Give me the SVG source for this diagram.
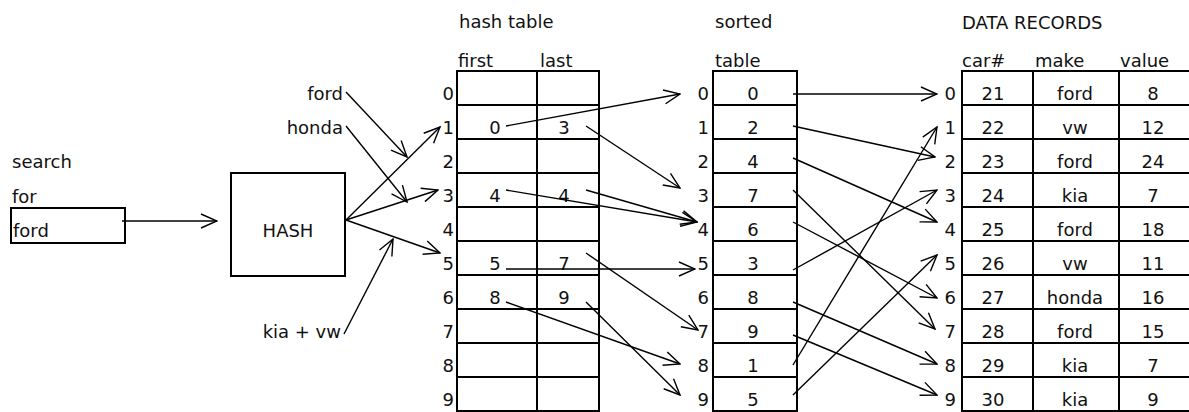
<svg xmlns="http://www.w3.org/2000/svg" width="1189" height="412" viewBox="0 0 1189 412">
<style>
text{font-family:"DejaVu Sans","Liberation Sans",sans-serif;font-size:18px;fill:#111}
.e{text-anchor:end}
.m{text-anchor:middle}
.box{fill:none;stroke:#000;stroke-width:2}
.grid{stroke:#000;stroke-width:2}
.c line{stroke:#000;stroke-width:1.4;marker-end:url(#ah)}
</style>
<defs>
<marker id="ah" markerUnits="userSpaceOnUse" viewBox="0 0 18 16" refX="17" refY="8" markerWidth="18" markerHeight="16" orient="auto">
<path d="M1,1 L17,8 L1,15" fill="none" stroke="#000" stroke-width="1.4"/>
</marker>
</defs>

<g id="search">
<text x="12" y="168">search</text>
<text x="12" y="203">for</text>
<rect class="box" x="11" y="208" width="114" height="35"/>
<text x="13" y="237">ford</text>
</g>

<g id="hash">
<rect class="box" x="231" y="173" width="114" height="103"/>
<text class="m" x="288" y="237">HASH</text>
</g>

<g id="keys">
<text class="e" x="343" y="100">ford</text>
<text class="e" x="343" y="134">honda</text>
<text class="e" x="341" y="338">kia + vw</text>
</g>

<g id="hashtable">
<text x="459" y="28">hash table</text>
<text x="458" y="67">first</text>
<text x="540" y="67">last</text>
<rect class="box" x="457" y="71" width="142" height="340"/>
<line class="grid" x1="537" y1="71" x2="537" y2="411"/>
<path class="grid" d="M457,105H599M457,139H599M457,173H599M457,207H599M457,241H599M457,275H599M457,309H599M457,343H599M457,377H599"/>
<text class="e" x="454" y="100">0</text><text class="e" x="454" y="134">1</text><text class="e" x="454" y="168">2</text><text class="e" x="454" y="202">3</text><text class="e" x="454" y="236">4</text><text class="e" x="454" y="270">5</text><text class="e" x="454" y="304">6</text><text class="e" x="454" y="338">7</text><text class="e" x="454" y="372">8</text><text class="e" x="454" y="406">9</text>
<text class="m" x="495" y="134">0</text><text class="m" x="564" y="134">3</text>
<text class="m" x="495" y="202">4</text><text class="m" x="564" y="202">4</text>
<text class="m" x="495" y="270">5</text><text class="m" x="564" y="270">7</text>
<text class="m" x="495" y="304">8</text><text class="m" x="564" y="304">9</text>
</g>

<g id="sorted">
<text x="715" y="28">sorted</text>
<text x="715" y="67">table</text>
<rect class="box" x="713" y="71" width="84" height="340"/>
<path class="grid" d="M713,105H797M713,139H797M713,173H797M713,207H797M713,241H797M713,275H797M713,309H797M713,343H797M713,377H797"/>
<text class="e" x="709" y="100">0</text><text class="e" x="709" y="134">1</text><text class="e" x="709" y="168">2</text><text class="e" x="709" y="202">3</text><text class="e" x="709" y="236">4</text><text class="e" x="709" y="270">5</text><text class="e" x="709" y="304">6</text><text class="e" x="709" y="338">7</text><text class="e" x="709" y="372">8</text><text class="e" x="709" y="406">9</text>
<text class="m" x="753" y="100">0</text><text class="m" x="753" y="134">2</text><text class="m" x="753" y="168">4</text><text class="m" x="753" y="202">7</text><text class="m" x="753" y="236">6</text><text class="m" x="753" y="270">3</text><text class="m" x="753" y="304">8</text><text class="m" x="753" y="338">9</text><text class="m" x="753" y="372">1</text><text class="m" x="753" y="406">5</text>
</g>

<g id="records">
<text x="962" y="29">DATA RECORDS</text>
<text x="962" y="67">car#</text>
<text x="1035" y="67">make</text>
<text x="1120" y="67">value</text>
<rect class="box" x="962" y="71" width="230" height="340"/>
<line class="grid" x1="1033" y1="71" x2="1033" y2="411"/>
<line class="grid" x1="1119" y1="71" x2="1119" y2="411"/>
<path class="grid" d="M962,105H1189M962,139H1189M962,173H1189M962,207H1189M962,241H1189M962,275H1189M962,309H1189M962,343H1189M962,377H1189"/>
<text class="e" x="956" y="100">0</text><text class="e" x="956" y="134">1</text><text class="e" x="956" y="168">2</text><text class="e" x="956" y="202">3</text><text class="e" x="956" y="236">4</text><text class="e" x="956" y="270">5</text><text class="e" x="956" y="304">6</text><text class="e" x="956" y="338">7</text><text class="e" x="956" y="372">8</text><text class="e" x="956" y="406">9</text>
<text class="m" x="993" y="100">21</text><text class="m" x="1075" y="100">ford</text><text class="m" x="1153" y="100">8</text>
<text class="m" x="993" y="134">22</text><text class="m" x="1075" y="134">vw</text><text class="m" x="1153" y="134">12</text>
<text class="m" x="993" y="168">23</text><text class="m" x="1075" y="168">ford</text><text class="m" x="1153" y="168">24</text>
<text class="m" x="993" y="202">24</text><text class="m" x="1075" y="202">kia</text><text class="m" x="1153" y="202">7</text>
<text class="m" x="993" y="236">25</text><text class="m" x="1075" y="236">ford</text><text class="m" x="1153" y="236">18</text>
<text class="m" x="993" y="270">26</text><text class="m" x="1075" y="270">vw</text><text class="m" x="1153" y="270">11</text>
<text class="m" x="993" y="304">27</text><text class="m" x="1075" y="304">honda</text><text class="m" x="1153" y="304">16</text>
<text class="m" x="993" y="338">28</text><text class="m" x="1075" y="338">ford</text><text class="m" x="1153" y="338">15</text>
<text class="m" x="993" y="372">29</text><text class="m" x="1075" y="372">kia</text><text class="m" x="1153" y="372">7</text>
<text class="m" x="993" y="406">30</text><text class="m" x="1075" y="406">kia</text><text class="m" x="1153" y="406">9</text>
</g>

<g id="connectors" class="c">
<line x1="122" y1="221" x2="217" y2="221"/>
<line x1="346" y1="92" x2="407" y2="157"/>
<line x1="346" y1="126" x2="407" y2="202"/>
<line x1="346" y1="220" x2="440" y2="127"/>
<line x1="346" y1="220" x2="438" y2="190"/>
<line x1="346" y1="220" x2="440" y2="253"/>
<line x1="344" y1="334" x2="393" y2="239"/>
<line x1="506" y1="126" x2="680" y2="94"/>
<line x1="586" y1="126" x2="680" y2="188"/>
<line x1="506" y1="190" x2="697" y2="222"/>
<line x1="586" y1="190" x2="697" y2="222"/>
<line x1="506" y1="269" x2="695" y2="269"/>
<line x1="586" y1="253" x2="698" y2="330"/>
<line x1="506" y1="302" x2="680" y2="364"/>
<line x1="586" y1="302" x2="680" y2="395"/>
<line x1="793" y1="94" x2="937" y2="94"/>
<line x1="793" y1="126" x2="935" y2="157"/>
<line x1="793" y1="158" x2="937" y2="222"/>
<line x1="793" y1="190" x2="935" y2="329"/>
<line x1="793" y1="222" x2="937" y2="298"/>
<line x1="793" y1="270" x2="937" y2="190"/>
<line x1="793" y1="302" x2="937" y2="364"/>
<line x1="793" y1="335" x2="937" y2="395"/>
<line x1="793" y1="365" x2="937" y2="127"/>
<line x1="793" y1="395" x2="937" y2="255"/>
</g>
</svg>
